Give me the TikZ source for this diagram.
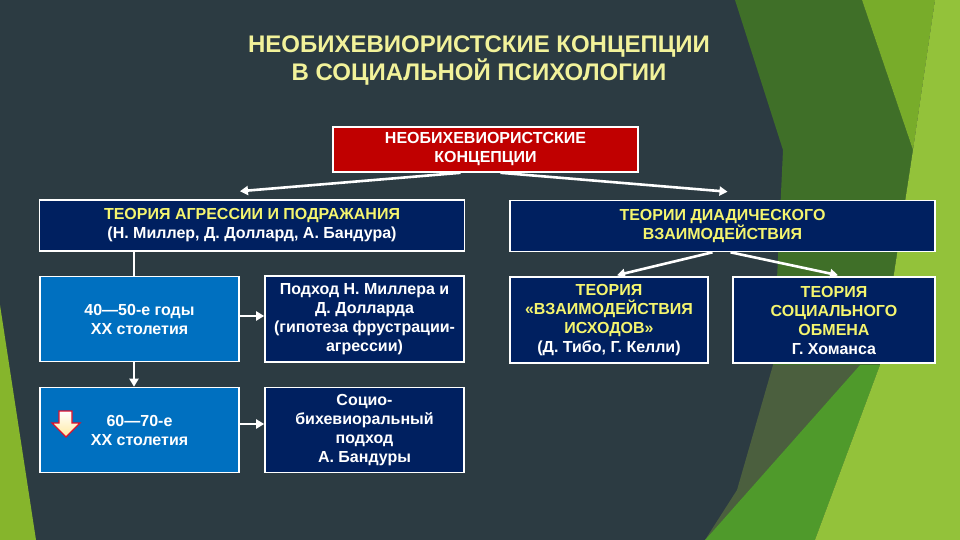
\documentclass[tikz,border=0pt]{standalone}
\usepackage{fontspec}
\setmainfont{Liberation Sans}
\usetikzlibrary{arrows.meta}
\definecolor{slate}{HTML}{2C3B42}
\definecolor{leftgreen}{HTML}{86B52C}
\definecolor{dgreen}{HTML}{3F6F28}
\definecolor{olivec}{HTML}{4B5F3E}
\definecolor{midgreen}{HTML}{4F9A2B}
\definecolor{topgreen}{HTML}{78AC2A}
\definecolor{lightgreen}{HTML}{93C23A}
\definecolor{navyc}{HTML}{002060}
\definecolor{bluec}{HTML}{0070C0}
\definecolor{redc}{HTML}{C00000}
\definecolor{yel}{HTML}{F5F56E}
\definecolor{cream}{HTML}{F2F29A}
\definecolor{iconred}{HTML}{E0102A}
\definecolor{iconfill}{HTML}{FFE9A0}
\begin{document}
\begin{tikzpicture}[x=1pt,y=-1pt,
  box/.style={draw=white, line width=1.6pt, inner sep=2pt, align=center,
    font=\bfseries\fontsize{16}{19}\selectfont, text=white},
  navybox/.style={box, fill=navyc},
  bluebox/.style={box, fill=bluec},
  redbox/.style={box, fill=redc},
  conn/.style={draw=white, line width=2.6pt},
  arr/.style={conn, -{Triangle[length=8pt,width=9pt]}}]
\useasboundingbox (0,0) rectangle (960,540);
% background
\fill[slate] (0,0) rectangle (960,540);
\fill[leftgreen] (0,305) -- (0,540) -- (36,540) -- cycle;
\fill[dgreen] (735,0) -- (862,0) -- (913,150) -- (880,365) -- (773,365) -- (783,150) -- cycle;
\fill[topgreen] (862,0) -- (935,0) -- (913,150) -- cycle;
\fill[olivec] (773,365) -- (860,365) -- (705,540) -- (737,490) -- cycle;
\fill[midgreen] (860,365) -- (880,365) -- (815,540) -- (705,540) -- cycle;
\fill[lightgreen] (935,0) -- (960,0) -- (960,540) -- (815,540) -- (880,365) -- (913,150) -- cycle;
% title
\node[text=cream, align=center, font=\bfseries\fontsize{24}{28}\selectfont] (title) at (479,61)
  {НЕОБИХЕВИОРИСТСКИЕ КОНЦЕПЦИИ\\В СОЦИАЛЬНОЙ ПСИХОЛОГИИ};
% boxes
\node[redbox, minimum width=305pt, minimum height=45pt] (red) at (485.5,149.5)
  {НЕОБИХЕВИОРИСТСКИЕ\\КОНЦЕПЦИИ};
\node[navybox, minimum width=425pt, minimum height=51pt] (agr) at (252,225.5)
  {\textcolor{yel}{ТЕОРИЯ АГРЕССИИ И ПОДРАЖАНИЯ}\\(Н. Миллер, Д. Доллард, А. Бандура)};
\node[navybox, minimum width=425pt, minimum height=51pt] (diad) at (722.5,226)
  {\textcolor{yel}{ТЕОРИИ ДИАДИЧЕСКОГО}\\\textcolor{yel}{ВЗАИМОДЕЙСТВИЯ}};
\node[bluebox, minimum width=199pt, minimum height=85pt] (b1) at (139.5,319)
  {40—50-е годы\\XX столетия};
\node[bluebox, minimum width=199pt, minimum height=85pt] (b2) at (139.5,430)
  {60—70-е\\XX столетия};
\node[navybox, minimum width=199pt, minimum height=86pt] (n1) at (364.5,319)
  {Подход Н. Миллера и\\Д. Долларда\\(гипотеза фрустрации-\\агрессии)};
\node[navybox, minimum width=199pt, minimum height=85pt] (n2) at (364.5,430)
  {Социо-\\бихевиоральный\\подход\\А. Бандуры};
\node[navybox, minimum width=198pt, minimum height=86pt] (ex) at (609,320)
  {\textcolor{yel}{ТЕОРИЯ}\\\textcolor{yel}{«ВЗАИМОДЕЙСТВИЯ}\\\textcolor{yel}{ИСХОДОВ»}\\(Д. Тибо, Г. Келли)};
\node[navybox, minimum width=202pt, minimum height=86pt] (so) at (834,320)
  {\textcolor{yel}{ТЕОРИЯ}\\\textcolor{yel}{СОЦИАЛЬНОГО}\\\textcolor{yel}{ОБМЕНА}\\Г. Хоманса};
% icon arrow in b2
\path[draw=iconred, line width=1.4pt, line join=miter, top color=white, bottom color=iconfill]
  (59,411) -- (72,411) -- (72,423) -- (80,423) -- (66,437) -- (52,423) -- (59,423) -- cycle;
% connectors
\draw[arr] ([xshift=-25pt]red.south) -- ([xshift=-12pt,yshift=8pt]agr.north);
\draw[arr] ([xshift=15pt]red.south) -- ([xshift=5pt,yshift=8pt]diad.north);
\draw[arr] ([xshift=-10pt]diad.south) -- ([xshift=8pt,yshift=1pt]ex.north);
\draw[arr] ([xshift=8pt]diad.south) -- ([xshift=4pt,yshift=1pt]so.north);
\draw[conn] ([xshift=-118pt]agr.south) -- ([xshift=-5.5pt]b1.north);
\draw[arr] ([xshift=-5.5pt]b1.south) -- ([xshift=-5.5pt]b2.north);
\draw[arr] ([yshift=3pt]b1.east) -- ([yshift=3pt]n1.west);
\draw[arr] ([yshift=6pt]b2.east) -- ([yshift=6pt]n2.west);
\end{tikzpicture}
\end{document}
